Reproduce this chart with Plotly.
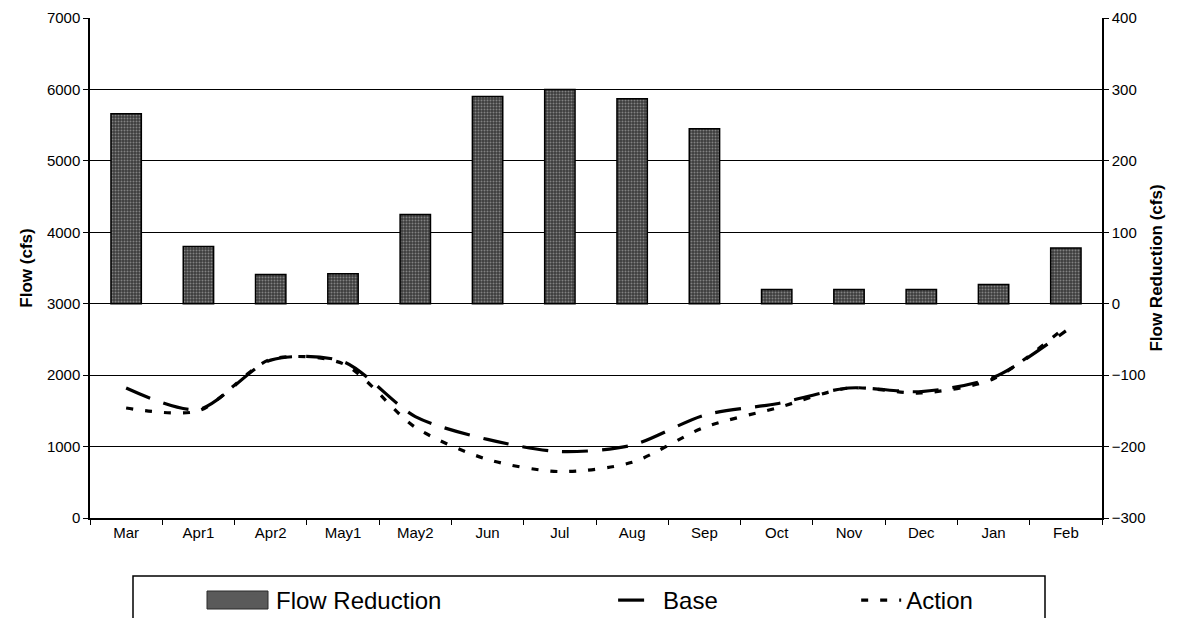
import plotly.graph_objects as go

months = ["Mar", "Apr1", "Apr2", "May1", "May2", "Jun", "Jul", "Aug", "Sep", "Oct", "Nov", "Dec", "Jan", "Feb"]
flow_reduction = [266, 80, 41, 42, 125, 290, 300, 287, 245, 20, 20, 20, 27, 78]
base_flow = [1820, 1520, 2210, 2190, 1420, 1100, 930, 1020, 1440, 1600, 1820, 1770, 1970, 2620]
action_flow = [1540, 1500, 2220, 2160, 1270, 820, 650, 780, 1270, 1540, 1820, 1750, 1950, 2680]

NB = "\u00a0"
BAR_PATTERN = dict(shape=".", fgcolor="#c8c8c8", bgcolor="#3c3c3c", size=3, solidity=0.35)
SWATCH = "#5a5a5a"

fig = go.Figure()
fig.add_trace(go.Bar(
    x=months, y=flow_reduction, name="Flow Reduction", yaxis="y2", showlegend=False,
    marker=dict(color="#5a5a5a", line=dict(color="black", width=1.5), pattern=BAR_PATTERN),
))
# legend entry for the bars (drawn over a wide swatch shape)
fig.add_trace(go.Bar(
    x=[months[0]], y=[None], name="Flow Reduction" + NB * 25, yaxis="y2",
    marker=dict(color=SWATCH, line=dict(color=SWATCH, width=0)), hoverinfo="skip",
))
fig.add_trace(go.Scatter(
    x=months, y=base_flow, name="Base" + NB * 20, mode="lines", yaxis="y",
    line=dict(color="black", width=3.2, dash="26px,14px", shape="spline", smoothing=0.8),
))
fig.add_trace(go.Scatter(
    x=months, y=action_flow, name="Action", mode="lines", yaxis="y",
    line=dict(color="black", width=3.2, dash="7px,12px", shape="spline", smoothing=0.8),
))

# page has an 8px body margin; plot area should span x 90..1102, y 18..518 in the screenshot
OFF = 8
PX0, PX1, PY0, PY1 = 90, 1102, 18, 518
def px_x(x):
    return (x - PX0) / (PX1 - PX0)
def px_y(y):
    return (PY1 - y) / (PY1 - PY0)

# legend frame
fig.add_shape(type="rect", xref="paper", yref="paper",
              x0=px_x(133), x1=px_x(1045), y0=px_y(576), y1=px_y(640),
              line=dict(color="black", width=1.5), fillcolor="rgba(0,0,0,0)")
# wide swatch behind the bar legend symbol
fig.add_shape(type="rect", xref="paper", yref="paper",
              x0=px_x(207), x1=px_x(268), y0=px_y(591), y1=px_y(609),
              line=dict(color="#2a2a2a", width=1), fillcolor=SWATCH)

font_family = "Liberation Sans, Arial, sans-serif"
fig.update_layout(
    width=1178 - OFF, height=618 - OFF,
    margin=dict(l=PX0 - OFF, r=1178 - PX1, t=PY0 - OFF, b=618 - PY1, autoexpand=False),
    paper_bgcolor="white", plot_bgcolor="white",
    font=dict(family=font_family, color="black", size=15),
    barmode="overlay",
    bargap=0.58,
    showlegend=True,
    legend=dict(orientation="h", x=px_x(226), xanchor="left", y=px_y(578), yanchor="top",
                borderwidth=0, font=dict(size=24), bgcolor="rgba(0,0,0,0)",
                traceorder="normal", itemwidth=40),
    xaxis=dict(type="category", showline=True, linecolor="black", linewidth=1.5,
               ticks="outside", ticklen=5, tickson="boundaries", tickcolor="black",
               showgrid=False, tickfont=dict(size=15)),
    yaxis=dict(title=dict(text="<b>Flow (cfs)</b>", font=dict(size=17), standoff=10),
               range=[0, 7000], dtick=1000, showline=True, linecolor="black", linewidth=1.5,
               ticks="outside", ticklen=5, tickcolor="black",
               showgrid=True, gridcolor="black", gridwidth=1, zeroline=False,
               tickfont=dict(size=15)),
    yaxis2=dict(title=dict(text="<b>Flow Reduction (cfs)</b>", font=dict(size=17), standoff=6),
                range=[-300, 400], dtick=100, overlaying="y", side="right",
                showline=True, linecolor="black", linewidth=1.5,
                ticks="outside", ticklen=5, tickcolor="black",
                showgrid=False, zeroline=False, tickfont=dict(size=15)),
)

fig.write_html("out.html")
